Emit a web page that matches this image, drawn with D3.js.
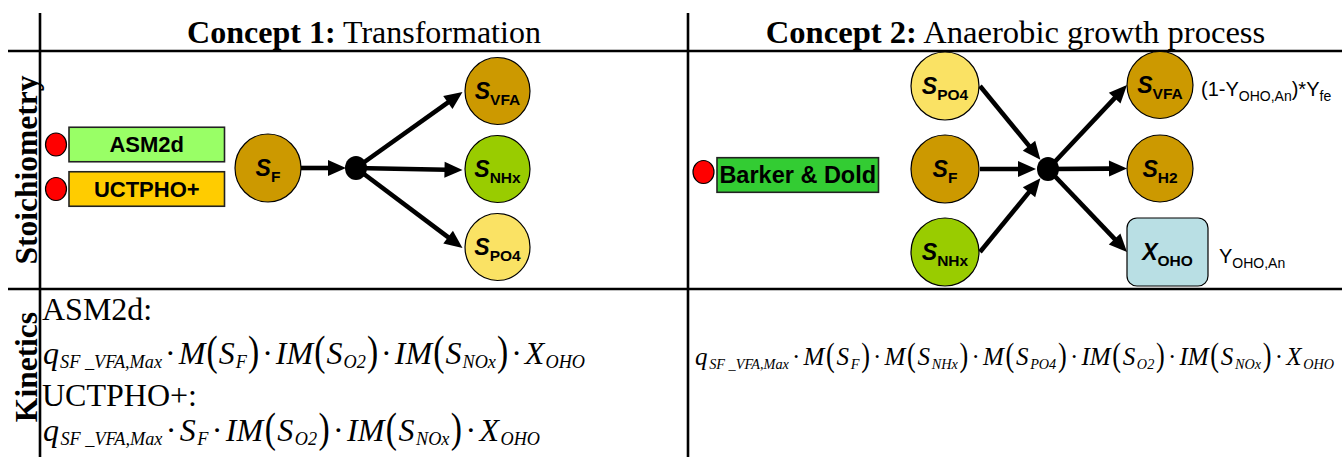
<!DOCTYPE html>
<html><head><meta charset="utf-8">
<script src="https://cdn.jsdelivr.net/npm/d3@7"></script>
<style>body{margin:0;background:#fff;} svg{display:block}</style>
</head><body>
<script>
// ---------- data ----------
const panelTitles = [["Concept 1:", " Transformation"], ["Concept 2:", " Anaerobic growth process"]];
const rowLabels = ["Stoichiometry", "Kinetics"];
const c1Models = ["ASM2d", "UCTPHO+"];
const c2Models = ["Barker & Dold"];
const c1Inputs = [["S", "F"]];
const c1Outputs = [["S", "VFA"], ["S", "NHx"], ["S", "PO4"]];
const c2Inputs = [["S", "PO4"], ["S", "F"], ["S", "NHx"]];
const c2Outputs = [["S", "VFA"], ["S", "H2"], ["X", "OHO"]];
const c2Coefs = [[["(1-Y", 0], ["OHO,An", 1], [")*Y", 0], ["fe", 1]], [], [["Y", 0], ["OHO,An", 1]]];
const kinLabels = ["ASM2d:", "UCTPHO+:"];
const kinEqs1 = [
  "q_{SF _VFA,Max} · M(S_{F}) · IM(S_{O2}) · IM(S_{NOx}) · X_{OHO}",
  "q_{SF _VFA,Max} · S_{F} · IM(S_{O2}) · IM(S_{NOx}) · X_{OHO}"
];
const kinEq2 = "q_{SF _VFA,Max} · M(S_{F}) · M(S_{NHx}) · M(S_{PO4}) · IM(S_{O2}) · IM(S_{NOx}) · X_{OHO}";

// ---------- setup ----------
const W = 1342, H = 457;
const SERIF = "'Liberation Serif','Times New Roman',serif";
const SANS = "'Liberation Sans',Arial,sans-serif";
const svg = d3.select("body").append("svg").attr("width", W).attr("height", H);

const speciesColor = d3.scaleOrdinal()
  .domain(["F", "VFA", "NHx", "PO4", "H2", "OHO"])
  .range(["#CC9900", "#CC9900", "#99CC00", "#FAE264", "#CC9900", "#B9DFE4"]);
const modelColor = d3.scaleOrdinal()
  .domain(["ASM2d", "UCTPHO+", "Barker & Dold"])
  .range(["#99FF66", "#FFCC00", "#33CC33"]);

// ---------- grid ----------
const grid = svg.append("g").attr("stroke", "#000").attr("stroke-width", 2.6);
grid.append("line").attr("x1", 40).attr("x2", 40).attr("y1", 13).attr("y2", H);
grid.append("line").attr("x1", 688).attr("x2", 688).attr("y1", 13).attr("y2", H);
grid.append("line").attr("x1", 8).attr("x2", W).attr("y1", 51).attr("y2", 51);
grid.append("line").attr("x1", 8).attr("x2", W).attr("y1", 289).attr("y2", 289);

// titles
const titleX = [364, 1015.5], titleFS = [32, 32.6];
panelTitles.forEach((t, i) => {
  const tx = svg.append("text").attr("x", titleX[i]).attr("y", 43).attr("text-anchor", "middle")
    .attr("font-family", SERIF).attr("font-size", titleFS[i]);
  tx.append("tspan").attr("font-weight", "bold").text(t[0]);
  tx.append("tspan").text(t[1]);
});
// row labels
const rowY = [170, 367];
rowLabels.forEach((r, i) => {
  svg.append("text").attr("transform", `translate(37,${rowY[i]}) rotate(-90)`)
    .attr("text-anchor", "middle").attr("font-family", SERIF).attr("font-weight", "bold")
    .attr("font-size", 31.5).text(r);
});

// ---------- helpers ----------
function arrow(g, x1, y1, x2, y2) {
  const dx = x2 - x1, dy = y2 - y1, L = Math.hypot(dx, dy), ux = dx / L, uy = dy / L;
  const hl = 18, hw = 8;
  const bx = x2 - ux * hl, by = y2 - uy * hl;
  g.append("line").attr("x1", x1).attr("y1", y1).attr("x2", bx + ux * 2).attr("y2", by + uy * 2)
    .attr("stroke", "#000").attr("stroke-width", 4.6);
  g.append("path").attr("d", `M${x2},${y2}L${bx - uy * hw},${by + ux * hw}L${bx + uy * hw},${by - ux * hw}Z`)
    .attr("fill", "#000");
}
function nodeLabel(g, cx, cy, d) {
  const t = g.append("text").attr("x", cx).attr("y", cy + 8).attr("text-anchor", "middle")
    .attr("font-family", SANS).attr("font-weight", "bold");
  t.append("tspan").attr("font-style", "italic").attr("font-size", 23).text(d[0]);
  t.append("tspan").attr("font-size", 15.5).attr("dy", 6).text(d[1]);
}
function node(g, cx, cy, d, rx, ry) {
  g.append("ellipse").attr("cx", cx).attr("cy", cy).attr("rx", rx).attr("ry", ry)
    .attr("fill", speciesColor(d[1])).attr("stroke", "#000").attr("stroke-width", 1.2);
  nodeLabel(g, cx, cy, d);
}
function modelBox(g, name, x, cy, w, h, fs, dotX, dotDy) {
  g.append("ellipse").attr("cx", dotX).attr("cy", cy + dotDy).attr("rx", 10.5).attr("ry", 11.5)
    .attr("fill", "#FF0000").attr("stroke", "#000").attr("stroke-width", 1.2);
  g.append("rect").attr("x", x).attr("y", cy - h / 2).attr("width", w).attr("height", h)
    .attr("fill", modelColor(name)).attr("stroke", "#222").attr("stroke-width", 1.6);
  g.append("text").attr("x", x + w / 2).attr("y", cy + fs * 0.36).attr("text-anchor", "middle")
    .attr("font-family", SANS).attr("font-weight", "bold").attr("font-size", fs).text(name);
}

// ---------- concept 1 ----------
const g1 = svg.append("g");
const y1m = d3.scalePoint().domain(c1Models).range([144.5, 189]);
c1Models.forEach(m => modelBox(g1, m, 69, y1m(m), 155.5, 34.5, 22, 56, 0));
const c1In = {x: 268, y: 168, rx: 33, ry: 34};
const dot1 = {x: 356, y: 168};
const y1o = d3.scalePoint().domain(c1Outputs.map(d => d[1])).range([91, 247]);
const c1OutX = 497.5;
arrow(g1, c1In.x + c1In.rx, c1In.y, dot1.x - 10, dot1.y);
c1Outputs.forEach(d => arrow(g1, dot1.x, dot1.y, c1OutX - 35, y1o(d[1]) + 1));
g1.append("ellipse").attr("cx", dot1.x).attr("cy", dot1.y).attr("rx", 11).attr("ry", 12).attr("fill", "#000");
node(g1, c1In.x, c1In.y, c1Inputs[0], c1In.rx, c1In.ry);
c1Outputs.forEach(d => node(g1, c1OutX, y1o(d[1]), d, 32.5, 33.5));

// ---------- concept 2 ----------
const g2 = svg.append("g");
modelBox(g2, c2Models[0], 717, 175, 161.5, 34.6, 23.5, 703.5, -3);
const y2i = d3.scalePoint().domain(c2Inputs.map(d => d[1])).range([86, 252]);
const y2o = d3.scalePoint().domain(c2Outputs.map(d => d[1])).range([85, 252]);
const c2InX = 945, c2OutX = 1160;
const dot2 = {x: 1048, y: 169};
c2Inputs.forEach(d => {
  const sx = c2InX + 35, sy = y2i(d[1]);
  const dx = dot2.x - sx, dy = dot2.y - sy, L = Math.hypot(dx, dy);
  arrow(g2, sx, sy, dot2.x - dx / L * 12, dot2.y - dy / L * 12);
});
c2Outputs.forEach(d => arrow(g2, dot2.x, dot2.y, c2OutX - 33, y2o(d[1])));
g2.append("ellipse").attr("cx", dot2.x).attr("cy", dot2.y).attr("rx", 11).attr("ry", 12).attr("fill", "#000");
c2Inputs.forEach(d => node(g2, c2InX, y2i(d[1]), d, 34, 34));
c2Outputs.forEach(d => {
  const cy = y2o(d[1]);
  if (d[0] === "X") {
    g2.append("rect").attr("x", 1127).attr("y", cy - 34).attr("width", 81).attr("height", 68)
      .attr("rx", 10).attr("fill", speciesColor(d[1])).attr("stroke", "#000").attr("stroke-width", 1.2);
    nodeLabel(g2, 1167.5, cy, d);
  } else node(g2, c2OutX, cy, d, 33, 33.5);
});
const coefX = [1201, 0, 1219];
c2Outputs.forEach((d, i) => {
  if (!c2Coefs[i].length) return;
  const t = g2.append("text").attr("x", coefX[i]).attr("y", y2o(d[1]) + 11)
    .attr("font-family", SANS).attr("font-size", 20);
  let prev = 0;
  c2Coefs[i].forEach(([s, sub]) => {
    t.append("tspan").attr("font-size", sub ? 14 : 20).attr("dy", (sub - prev) * 5).text(s);
    prev = sub;
  });
});

// ---------- kinetics ----------
function drawEq(g, str, x0, y0, F, xEnd) {
  const re = /_\{([^}]*)\}|·|\(|\)|[A-Za-z0-9]+/g;
  let m, x = x0;
  const gap = F * 0.06;
  const els = [];
  while ((m = re.exec(str)) !== null) {
    let t, txt = m[0], paren = false;
    if (m[1] !== undefined) {
      t = g.append("text").attr("font-style", "italic").attr("font-size", F * 0.57)
        .attr("y", y0 + F * 0.14).text(m[1]);
    } else if (txt === "·") {
      x += gap;
      t = g.append("text").attr("font-size", F).attr("y", y0).text("·");
    } else if (txt === "(" || txt === ")") {
      paren = true;
      t = g.append("text").attr("font-size", F * 1.05).attr("x", 0).attr("y", 0).text(txt);
    } else {
      t = g.append("text").attr("font-style", "italic").attr("font-size", F).attr("y", y0).text(txt);
    }
    t.attr("font-family", SERIF);
    if (!paren) t.attr("x", x);
    els.push({t, x, paren});
    x += t.node().getComputedTextLength();
    if (txt === "·") x += gap;
  }
  // distribute remaining space evenly between tokens
  const extra = (xEnd - x) / (els.length - 1);
  els.forEach((e, i) => {
    const nx = e.x + i * extra;
    if (e.paren) e.t.attr("transform", `translate(${nx},${y0 + F * 0.02}) scale(1,1.28)`);
    else e.t.attr("x", nx);
  });
}
const gk = svg.append("g");
const kinLabelY = [320, 406], kinEqY = [364, 441], kinEqEnd = [585, 540];
kinLabels.forEach((l, i) => {
  gk.append("text").attr("x", 42).attr("y", kinLabelY[i]).attr("font-family", SERIF)
    .attr("font-size", 32).text(l);
  drawEq(gk, kinEqs1[i], 43, kinEqY[i], 32, kinEqEnd[i]);
});
drawEq(gk, kinEq2, 695, 365, 25, 1334);
</script>
</body></html>
